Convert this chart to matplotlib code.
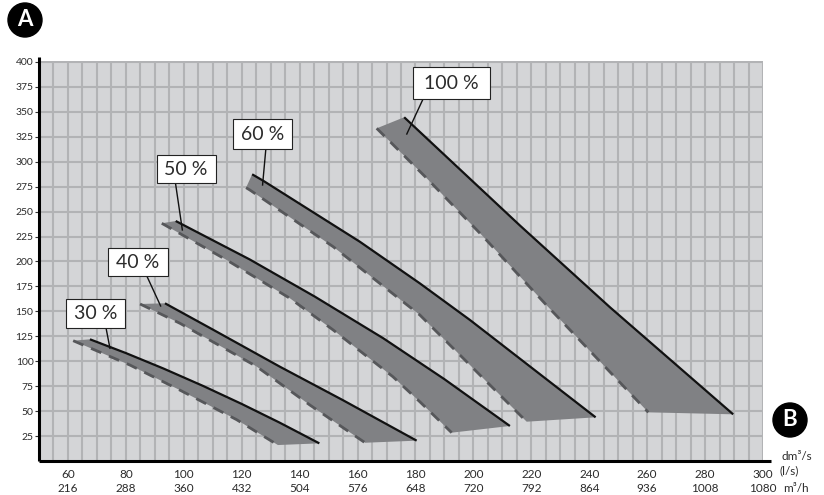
import numpy as np
import matplotlib
matplotlib.use('Agg')
import matplotlib.pyplot as plt
from matplotlib.patches import Ellipse, Rectangle

plt.rcParams['font.family'] = ['Lato', 'DejaVu Sans']

# flow rate axis (l/s) and the same in m3/h
flow_ls = [60, 80, 100, 120, 140, 160, 180, 200, 220, 240, 260, 280, 300]
flow_m3h = [216, 288, 360, 432, 504, 576, 648, 720, 792, 864, 936, 1008, 1080]
pressure_ticks = [25, 50, 75, 100, 125, 150, 175, 200, 225, 250, 275, 300, 325, 350, 375, 400]

# 30 % band: upper (solid) and lower (dashed) curve
p30_top_x = [67.6, 80.0, 92.9, 106.7, 120.0, 133.0, 146.8]
p30_top_y = [122.0, 108.2, 92.8, 75.2, 57.2, 38.6, 17.7]
p30_bot_x = [61.8, 81.4, 98.7, 118.2, 132.5]
p30_bot_y = [120.6, 96.2, 71.0, 41.5, 16.0]

# 40 %
p40_top_x = [93.5, 110.0, 133.2, 155.0, 180.4]
p40_top_y = [158.1, 131.8, 94.5, 60.9, 20.4]
p40_bot_x = [84.9, 98.7, 125.0, 143.6, 162.6]
p40_bot_y = [157.4, 138.0, 95.0, 56.0, 18.3]

# 50 %
p50_top_x = [97.2, 122.8, 145.3, 168.9, 190.0, 212.6]
p50_top_y = [240.6, 202.0, 164.7, 123.0, 82.0, 35.1]
p50_bot_x = [92.4, 114.8, 136.7, 151.6, 172.2, 181.5, 192.5]
p50_bot_y = [238.3, 201.5, 163.0, 131.3, 84.5, 59.4, 28.4]

# 60 %
p60_top_x = [123.6, 127.4, 160.8, 181.5, 198.8, 242.2]
p60_top_y = [287.4, 281.0, 219.8, 178.1, 141.4, 43.8]
p60_bot_x = [121.5, 122.8, 151.6, 181.5, 218.4]
p60_bot_y = [274.0, 271.7, 214.8, 146.4, 39.4]

# 100 %
p100_top_x = [176.1, 216.1, 247.2, 289.7]
p100_top_y = [344.6, 236.0, 154.0, 46.8]
p100_bot_x = [166.6, 183.9, 203.4, 225.3, 260.4]
p100_bot_y = [333.5, 283.4, 224.9, 156.0, 48.8]

bands = [
    ('30 %', p30_top_x, p30_top_y, p30_bot_x, p30_bot_y),
    ('40 %', p40_top_x, p40_top_y, p40_bot_x, p40_bot_y),
    ('50 %', p50_top_x, p50_top_y, p50_bot_x, p50_bot_y),
    ('60 %', p60_top_x, p60_top_y, p60_bot_x, p60_bot_y),
    ('100 %', p100_top_x, p100_top_y, p100_bot_x, p100_bot_y),
]

# label box centre (data), box size (px), leader end, leader start along box bottom
label_pos = {
    '30 %': ((69.5, 147.6), (59, 29), (74.5, 113.0), 0.68),
    '40 %': ((84.2, 199.0), (60, 28), (92.0, 155.4), 0.65),
    '50 %': ((100.8, 292.5), (59, 28), (99.5, 231.6), 0.32),
    '60 %': ((127.3, 327.5), (59, 30), (127.2, 276.7), 0.55),
    '100 %': ((192.4, 378.6), (77, 32), (177.0, 327.8), 0.13),
}

bg = '#d4d5d7'
grid_c = '#b2b3b5'
fill_c = '#808184'
dash_c = '#56575a'
txt_c = '#2b2b2b'

W, H = 824, 495
fig = plt.figure(figsize=(W / 100, H / 100), dpi=100)
ax = fig.add_axes([39 / W, 34 / H, 724 / W, 400 / H])
ax.set_facecolor(bg)
ax.set_xlim(50, 300)
ax.set_ylim(0, 401)
ux = 250 / 724   # data units per pixel, x
uy = 401 / 400   # data units per pixel, y

ax.set_xticks(flow_ls)
ax.set_xticklabels([f'{a}\n{b}' for a, b in zip(flow_ls, flow_m3h)],
                   fontsize=8.5, color=txt_c, linespacing=1.25)
ax.set_xticks(np.arange(50, 301, 5), minor=True)
ax.set_yticks(pressure_ticks)
ax.set_yticklabels([str(v) for v in pressure_ticks], fontsize=7.5, color=txt_c)
ax.tick_params(axis='x', which='both', length=0, pad=6)
ax.tick_params(axis='y', which='major', length=3, width=0.8, color='#333333', pad=1)
ax.grid(True, which='both', color=grid_c, linewidth=1.5)
ax.set_axisbelow(True)

for s in ax.spines.values():
    s.set_visible(False)
ax.plot([0, 0], [0, 1.01], transform=ax.transAxes, color='black', lw=2.2,
        clip_on=False, solid_capstyle='butt', zorder=6)
ax.plot([0, 1.011], [0, 0], transform=ax.transAxes, color='black', lw=2.2,
        clip_on=False, solid_capstyle='butt', zorder=6)

for name, tx, ty, bx, by in bands:
    px = list(tx) + list(bx)[::-1]
    py = list(ty) + list(by)[::-1]
    ax.fill(px, py, color=fill_c, lw=0, zorder=2)
    ax.plot(bx, by, color=dash_c, lw=2.0, dashes=(4, 3), zorder=3)
    ax.plot(tx, ty, color='#111111', lw=1.6, zorder=4, solid_capstyle='butt')

    (cx, cy), (bw, bh), end, rel = label_pos[name]
    w, h = bw * ux, bh * uy
    x0, y0 = cx - w / 2, cy - h / 2
    ax.plot([x0 + rel * w, end[0]], [y0, end[1]], color='#111111', lw=1.0, zorder=5)
    ax.add_patch(Rectangle((x0, y0), w, h, fc='white', ec='#222222', lw=0.8, zorder=6))
    ax.text(cx, cy, name, ha='center', va='center', fontsize=14, color=txt_c, zorder=7)

# unit labels
fig.text(781 / W, 1 - 457 / H, 'dm³/s', fontsize=8.5, color=txt_c, va='center')
fig.text(780 / W, 1 - 471 / H, '(l/s)', fontsize=8.5, color=txt_c, va='center')
fig.text(783 / W, 1 - 488 / H, 'm³/h', fontsize=8.5, color=txt_c, va='center')

# circled letters
for (cx, cy), letter in [((25, 20), 'A'), ((790, 420), 'B')]:
    fig.add_artist(Ellipse((cx / W, 1 - cy / H), 34 / W, 34 / H,
                           transform=fig.transFigure, color='black'))
    fig.text(cx / W, 1 - cy / H, letter, color='white', fontsize=16,
             fontweight='bold', ha='center', va='center')

fig.savefig('out.png', dpi=100)
